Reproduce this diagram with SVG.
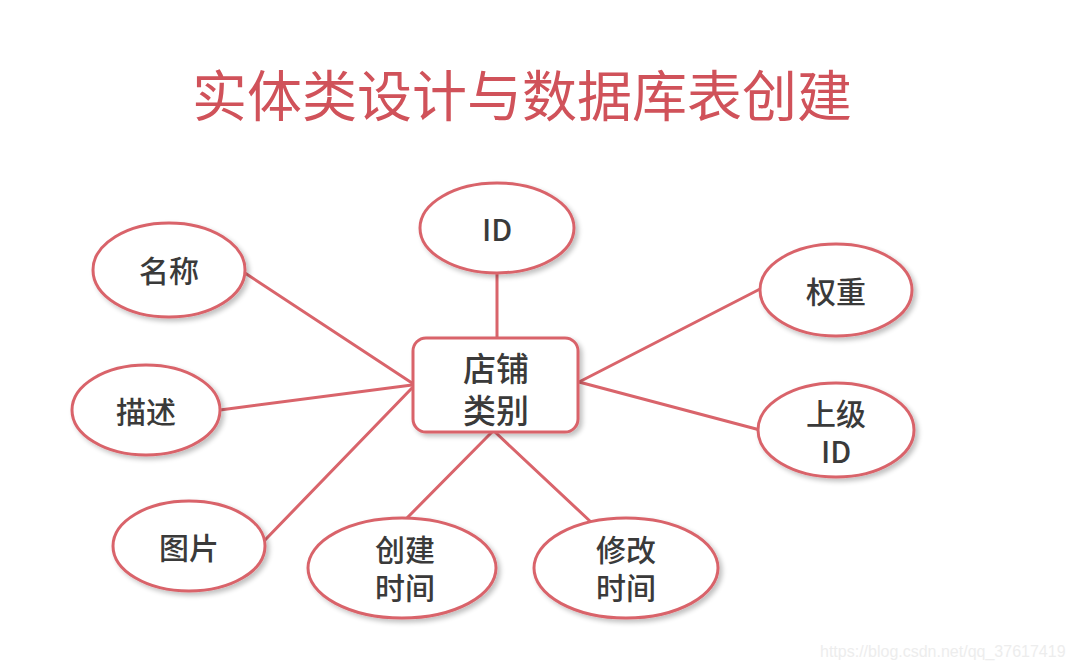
<svg xmlns="http://www.w3.org/2000/svg" width="1073" height="668" viewBox="0 0 1073 668">
<defs>
<filter id="sh" x="-20%" y="-20%" width="150%" height="150%">
<feGaussianBlur in="SourceAlpha" stdDeviation="2.5"/>
<feOffset dx="3" dy="3" result="b"/>
<feComponentTransfer><feFuncA type="linear" slope="0.25"/></feComponentTransfer>
<feMerge><feMergeNode/><feMergeNode in="SourceGraphic"/></feMerge>
</filter>
</defs>
<style>
.shape{fill:#ffffff;stroke:#d9646b;stroke-width:3;filter:url(#sh);}
.lbl{font-family:"Noto Sans CJK SC","Noto Sans",sans-serif;font-size:30px;font-weight:500;fill:#3a3a3a;text-anchor:middle;dominant-baseline:central;}
.conn line{stroke:#d9646b;stroke-width:3;stroke-linecap:round;}
.title{font-family:"Noto Sans CJK SC",sans-serif;font-size:55px;fill:#d0525a;text-anchor:middle;}
.wm{font-family:"Liberation Sans",Arial,sans-serif;font-size:16px;fill:#ededed;}
</style>
<rect width="1073" height="668" fill="#ffffff"/>
<text class="title" x="522" y="116">实体类设计与数据库表创建</text>
<g id="connectors" class="conn">
<line x1="497" y1="273" x2="497" y2="338"/>
<line x1="245" y1="273" x2="412" y2="383"/>
<line x1="220" y1="410" x2="412" y2="385"/>
<line x1="265" y1="540" x2="412" y2="388"/>
<line x1="762" y1="288" x2="579" y2="382"/>
<line x1="760" y1="430" x2="579" y2="382"/>
<line x1="405" y1="520" x2="492" y2="432"/>
<line x1="592" y1="523" x2="495" y2="432"/>
</g>
<g id="node-center">
<rect class="shape" x="413" y="338" width="165" height="94" rx="13"/>
<text class="lbl" style="font-size:33px"><tspan x="496" y="367">店铺</tspan><tspan x="496" y="409">类别</tspan></text>
</g>
<g id="node-id">
<ellipse class="shape" cx="497" cy="228" rx="77" ry="45"/>
<text class="lbl" x="497" y="228">ID</text>
</g>
<g id="node-name">
<ellipse class="shape" cx="169" cy="270" rx="76" ry="47"/>
<text class="lbl" x="169" y="269">名称</text>
</g>
<g id="node-desc">
<ellipse class="shape" cx="146" cy="410" rx="74" ry="45"/>
<text class="lbl" x="146" y="410">描述</text>
</g>
<g id="node-pic">
<ellipse class="shape" cx="189" cy="546" rx="76" ry="45"/>
<text class="lbl" x="189" y="546">图片</text>
</g>
<g id="node-create">
<ellipse class="shape" cx="402" cy="568" rx="94" ry="50"/>
<text class="lbl"><tspan x="405" y="548">创建</tspan><tspan x="405" y="586">时间</tspan></text>
</g>
<g id="node-modify">
<ellipse class="shape" cx="626" cy="568" rx="92" ry="50"/>
<text class="lbl"><tspan x="626" y="548">修改</tspan><tspan x="626" y="586">时间</tspan></text>
</g>
<g id="node-weight">
<ellipse class="shape" cx="836" cy="290" rx="76" ry="46"/>
<text class="lbl" x="836" y="290">权重</text>
</g>
<g id="node-parent">
<ellipse class="shape" cx="836" cy="430" rx="78" ry="47"/>
<text class="lbl"><tspan x="836" y="412">上级</tspan><tspan x="836" y="450">ID</tspan></text>
</g>
<text class="wm" x="820" y="657">https://blog.csdn.net/qq_37617419</text>
</svg>
